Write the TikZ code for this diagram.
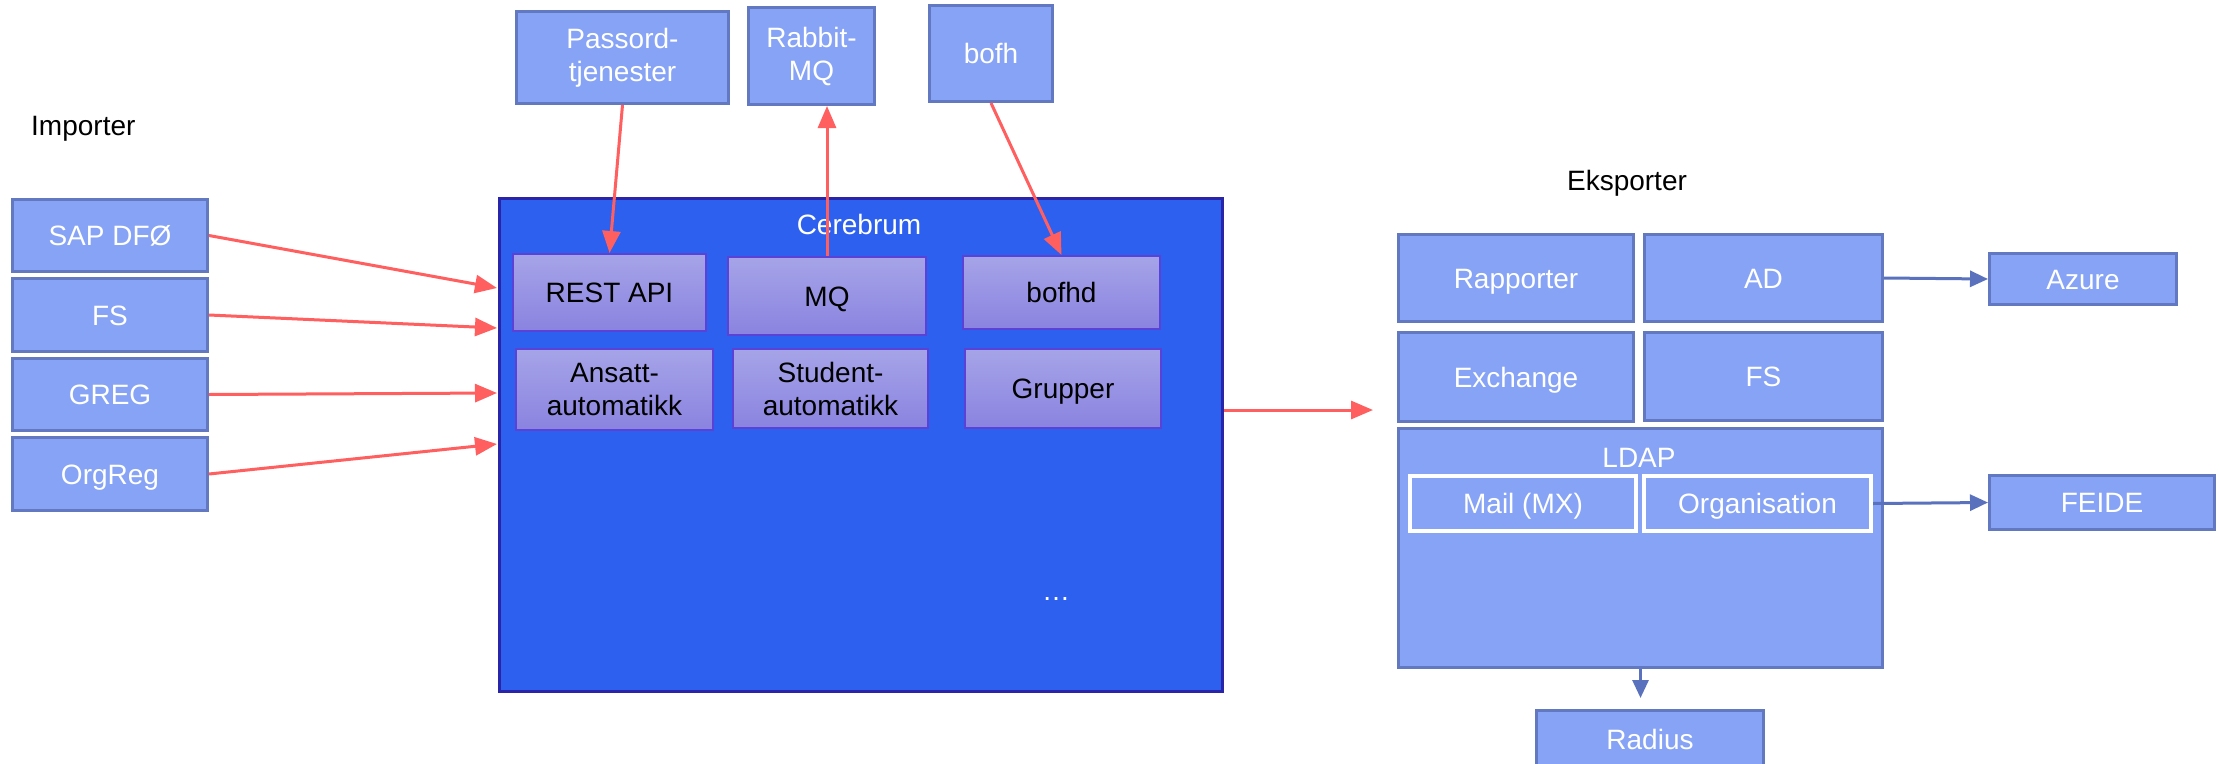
\documentclass[tikz,border=0pt]{standalone}
\usepackage{fontspec}
\setmainfont{Liberation Sans}
\usetikzlibrary{arrows.meta}
\definecolor{lfill}{HTML}{87A3F5}
\definecolor{lborder}{HTML}{6279C2}
\definecolor{cfill}{HTML}{2E60F0}
\definecolor{cborder}{HTML}{2A24A8}
\definecolor{itop}{HTML}{A6A4E8}
\definecolor{ibot}{HTML}{8A83E0}
\definecolor{iborder}{HTML}{5A42D6}
\definecolor{redarr}{HTML}{FF5F5F}
\definecolor{bluearr}{HTML}{5A72BE}
\tikzset{
  sl/.style={text height=20pt, text depth=0pt},
  lbox/.style={draw=lborder, fill=lfill, line width=3pt, text=white, anchor=north west},
  cerbox/.style={draw=cborder, fill=cfill, line width=3pt, anchor=north west},
  ibox/.style={draw=iborder, top color=itop, bottom color=ibot, line width=2pt, text=black, anchor=north west},
  wbox/.style={draw=white, fill=lfill, line width=4pt, text=white, anchor=north west, sl},
  redline/.style={draw=redarr, line width=3pt, -{Triangle[length=22pt,width=18pt]}},
  blueline/.style={draw=bluearr, line width=3pt, -{Triangle[length=18pt,width=16pt]}},
  plain/.style={text=black, sl},
}
\begin{document}
\begin{tikzpicture}[x=1pt,y=-1pt, every node/.style={font=\fontsize{28}{33}\selectfont, align=center, inner sep=0pt}]
\clip (0,0) rectangle (2219,763);
\fill[white] (0,0) rectangle (2219,763);

% labels
\node[plain, anchor=west] (imp) at (31,125) {Importer};
\node[plain] (eks) at (1627,180) {Eksporter};

% import sources
\node[lbox, sl, minimum width=195pt, minimum height=72pt] (sap) at (11,198) {SAP DFØ};
\node[lbox, sl, minimum width=195pt, minimum height=73pt] (fs) at (11,277) {FS};
\node[lbox, sl, minimum width=195pt, minimum height=72pt] (greg) at (11,357) {GREG};
\node[lbox, sl, minimum width=195pt, minimum height=73pt] (orgreg) at (11,436) {OrgReg};

% top services
\node[lbox, minimum width=212pt, minimum height=92pt] (passord) at (515,10) {Passord-\\tjenester};
\node[lbox, minimum width=126pt, minimum height=97pt] (rabbit) at (747,6) {Rabbit-\\MQ};
\node[lbox, sl, minimum width=123pt, minimum height=96pt] (bofh) at (928,4) {bofh};

% Cerebrum
\node[cerbox, minimum width=723pt, minimum height=493pt] (cer) at (498,197) {};
\node[text=white, sl] (cerlabel) at (859,224) {Cerebrum};
\node[ibox, sl, minimum width=193pt, minimum height=77pt] (rest) at (512,253) {REST API};
\node[ibox, sl, minimum width=198pt, minimum height=78pt] (mq) at (727,256) {MQ};
\node[ibox, sl, minimum width=197pt, minimum height=73pt] (bofhd) at (962,255) {bofhd};
\node[ibox, minimum width=197pt, minimum height=81pt] (ansatt) at (515,348) {Ansatt-\\automatikk};
\node[ibox, minimum width=195pt, minimum height=79pt] (student) at (732,348) {Student-\\automatikk};
\node[ibox, sl, minimum width=196pt, minimum height=79pt] (grupper) at (964,348) {Grupper};
\node[text=white] (dots) at (1056,599) {…};

% export
\node[lbox, sl, minimum width=235pt, minimum height=87pt] (rapp) at (1397,233) {Rapporter};
\node[lbox, sl, minimum width=238pt, minimum height=87pt] (ad) at (1643,233) {AD};
\node[lbox, sl, minimum width=235pt, minimum height=89pt] (exch) at (1397,331) {Exchange};
\node[lbox, sl, minimum width=238pt, minimum height=88pt] (fsx) at (1643,331) {FS};
\node[lbox, minimum width=484pt, minimum height=239pt] (ldap) at (1397,427) {};
\node[text=white, sl] (ldaplabel) at (1639,457) {LDAP};
\node[wbox, minimum width=226pt, minimum height=55pt] (mail) at (1408,474) {Mail (MX)};
\node[wbox, minimum width=227pt, minimum height=55pt] (org) at (1642,474) {Organisation};
\node[lbox, sl, minimum width=187pt, minimum height=51pt] (azure) at (1988,252) {Azure};
\node[lbox, sl, minimum width=225pt, minimum height=54pt] (feide) at (1988,474) {FEIDE};
\node[lbox, sl, minimum width=227pt, minimum height=58pt] (radius) at (1535,709) {Radius};

% coordinates
\coordinate (in1) at (497,288);
\coordinate (in2) at (497,328);
\coordinate (in3) at (497,393);
\coordinate (in4) at (497,444);
\coordinate (exin) at (1373,410);

% import arrows
\draw[redline] (sap.east) -- (in1);
\draw[redline] (fs.east) -- (in2);
\draw[redline] (greg.east) -- (in3);
\draw[redline] (orgreg.east) -- (in4);

% top arrows
\draw[redline] (passord.south) -- (rest.north);
\draw[redline] (mq.north) -- (mq.north |- rabbit.south);
\draw[redline] (bofh.south) -- (bofhd.north);

% export arrow
\draw[redline] (cer.east |- exin) -- (exin);

% blue arrows
\draw[blueline] (ad.east) -- (azure.west);
\draw[blueline] (org.east) -- (feide.west);
\draw[blueline, shorten >=11pt] (ldap.south) -- (ldap.south |- radius.north);
\end{tikzpicture}
\end{document}
